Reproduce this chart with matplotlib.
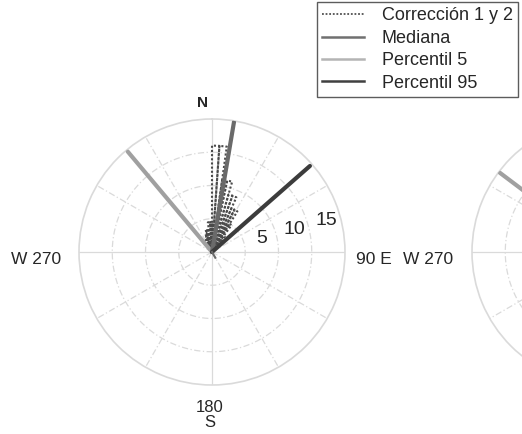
import numpy as np
import matplotlib
matplotlib.use('Agg')
import matplotlib.pyplot as plt
from matplotlib.lines import Line2D

plt.rcParams['font.family'] = ['Liberation Sans', 'DejaVu Sans']

# rose histogram (Corrección 1 y 2): bin start angle (deg, clockwise from N), length
bin_start = [-36, -32, -28, -24, -20, -16, -12, -8, -4, 0, 4, 8, 12, 16, 20,
             24, 28, 32, 36, 40, 44]
bin_len = [0.8, 1.5, 2.0, 2.5, 3.0, 3.5, 3.5, 4.5, 4.5, 16, 16, 11, 11, 9, 9,
           7.2, 7.2, 5, 3, 1.5, 1.0]
bin_width = 4

# directions (deg) and magnitudes of the summary lines
mediana = (9.6, 19.85)
perc5 = (320.0, 19.7)
perc95 = (48.7, 19.6)
perc5_right = (307.0, 19.8)

rings = [5, 10, 15]
rmax = 20

W, H = 522, 434
fig = plt.figure(figsize=(W / 100, H / 100), dpi=100)

cx, cy, rad = 212, 252, 133
grid_c = '#dadada'
text_c = '#262626'


def polar_frame(left):
    ax = fig.add_axes([left, (H - cy - rad) / H, 2 * rad / W, 2 * rad / H],
                      projection='polar')
    ax.set_theta_zero_location('N')
    ax.set_theta_direction(-1)
    ax.set_ylim(0, rmax)
    ax.grid(False)
    ax.set_xticks([])
    ax.set_yticks([])
    ax.spines['polar'].set_color(grid_c)
    ax.spines['polar'].set_linewidth(1.2)
    ax.patch.set_alpha(0)
    full = np.linspace(0, 2 * np.pi, 361)
    for r in rings:
        ax.plot(full, np.full_like(full, r), color=grid_c, lw=0.9,
                ls=(0, (5, 2, 1, 2)), zorder=1)
    for a in range(0, 360, 30):
        t = np.deg2rad(a)
        ls = '-' if a % 90 == 0 else (0, (5, 2, 1, 2))
        ax.plot([t, t], [0, rmax], color=grid_c, lw=0.9, ls=ls, zorder=1)
    return ax


ax = polar_frame((cx - rad) / W)
ax2 = polar_frame((cx - rad + 393) / W)

# rose petals
for s, r in zip(bin_start, bin_len):
    t1, t2 = np.deg2rad(s), np.deg2rad(s + bin_width)
    ax.plot([0, t1, t2, 0], [0, r, r, 0], color='#4a4a4a', lw=1.5,
            ls=(0, (1, 1)), zorder=3)

ax.plot([0, np.deg2rad(perc5[0])], [0, perc5[1]], color='#a0a0a0', lw=3,
        solid_capstyle='round', zorder=4)
ax.plot([0, np.deg2rad(mediana[0])], [0, mediana[1]], color='#6a6a6a', lw=3,
        solid_capstyle='round', zorder=5)
ax.plot([0, np.deg2rad(perc95[0])], [0, perc95[1]], color='#3c3c3c', lw=3,
        solid_capstyle='round', zorder=5)
ax.plot([0, np.deg2rad(150)], [0, 1.0], color='#6a6a6a', lw=1.5, zorder=5)

ax2.plot([0, np.deg2rad(perc5_right[0])], [0, perc5_right[1]], color='#a0a0a0',
         lw=3, solid_capstyle='round', zorder=4)

# radial labels
for r in rings:
    ax.text(np.deg2rad(74.5), r + 2.8, str(r), fontsize=14, color=text_c,
            ha='center', va='center', zorder=6)


def ftext(x, y, s, **kw):
    fig.text(x / W, 1 - y / H, s, color=text_c, ha='center', va='center', **kw)


ftext(202, 103, 'N', fontsize=11, fontweight='bold')
ftext(36, 259, 'W 270', fontsize=12.5)
ftext(374, 259, '90 E', fontsize=12.5)
ftext(210, 415, '180\nS', fontsize=12, linespacing=1.0)
ftext(428, 259, 'W 270', fontsize=12.5)

handles = [
    Line2D([], [], color='#505050', lw=1.3, ls=(0, (1, 1))),
    Line2D([], [], color='#707070', lw=1.8),
    Line2D([], [], color='#b4b4b4', lw=1.8),
    Line2D([], [], color='#404040', lw=1.8),
]
labels = ['Corrección 1 y 2', 'Mediana', 'Percentil 5', 'Percentil 95']
leg = fig.legend(handles, labels, loc='upper right',
                 bbox_to_anchor=(518 / W, 1 - 2 / H), fontsize=13,
                 frameon=True, fancybox=False, handlelength=2.3,
                 handletextpad=1.0, labelspacing=0.3, borderpad=0.3,
                 borderaxespad=0)
leg.get_frame().set_edgecolor('#333333')
leg.get_frame().set_linewidth(1.0)
for t in leg.get_texts():
    t.set_color(text_c)

fig.savefig('out.png', dpi=100)
